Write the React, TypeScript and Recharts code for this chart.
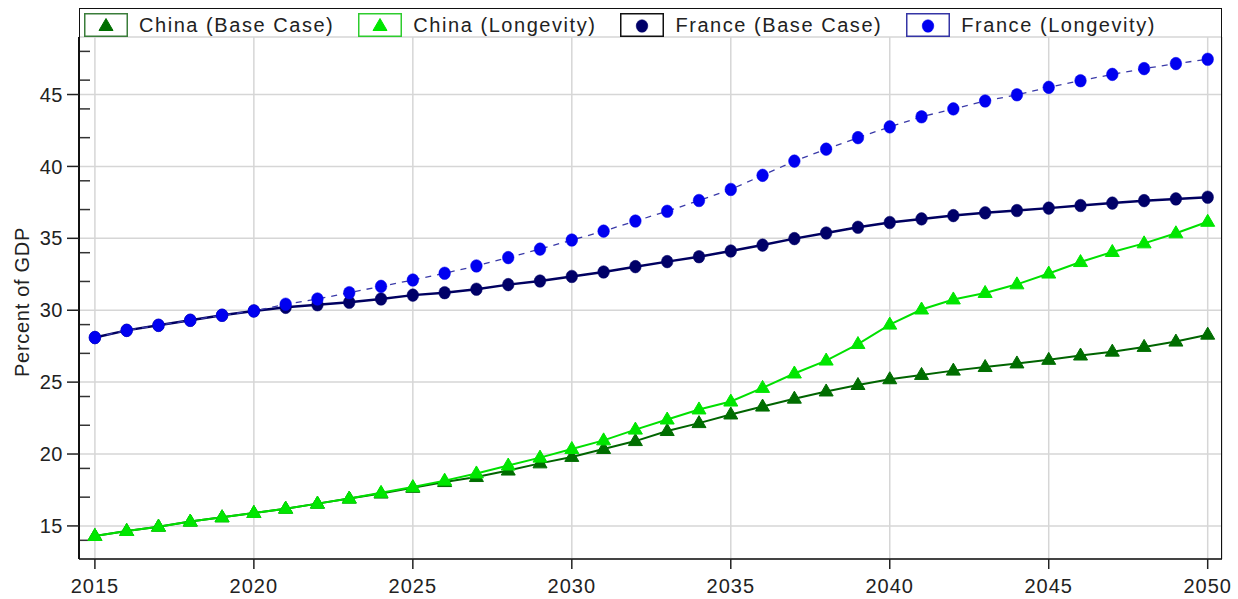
import React from "react";
import {
  LineChart,
  Line,
  XAxis,
  YAxis,
  CartesianGrid,
  Legend,
} from "recharts";

const years = [
  2015, 2016, 2017, 2018, 2019, 2020, 2021, 2022, 2023, 2024, 2025, 2026,
  2027, 2028, 2029, 2030, 2031, 2032, 2033, 2034, 2035, 2036, 2037, 2038,
  2039, 2040, 2041, 2042, 2043, 2044, 2045, 2046, 2047, 2048, 2049, 2050,
];

const chinaBase = [
  14.3, 14.65, 14.95, 15.3, 15.6, 15.9, 16.2, 16.55, 16.9, 17.25, 17.65, 18.05,
  18.4, 18.85, 19.35, 19.8, 20.35, 20.9, 21.6, 22.15, 22.75, 23.3, 23.85, 24.35,
  24.8, 25.2, 25.5, 25.8, 26.05, 26.3, 26.55, 26.85, 27.12, 27.45, 27.82, 28.3,
];

const chinaLongevity = [
  14.3, 14.65, 14.95, 15.3, 15.6, 15.9, 16.2, 16.55, 16.9, 17.3, 17.7, 18.15,
  18.65, 19.2, 19.75, 20.35, 20.95, 21.7, 22.4, 23.1, 23.65, 24.6, 25.6, 26.5,
  27.65, 29.0, 30.05, 30.75, 31.2, 31.8, 32.55, 33.35, 34.05, 34.65, 35.35, 36.15,
];

const franceBase = [
  28.1, 28.6, 28.95, 29.3, 29.65, 29.95, 30.2, 30.38, 30.55, 30.78, 31.05, 31.22,
  31.46, 31.78, 32.03, 32.35, 32.66, 33.03, 33.38, 33.72, 34.12, 34.53, 34.98, 35.37,
  35.77, 36.1, 36.35, 36.58, 36.77, 36.93, 37.1, 37.28, 37.45, 37.62, 37.74, 37.86,
];

const franceLongevity = [
  28.1, 28.6, 28.95, 29.3, 29.65, 29.95, 30.42, 30.78, 31.22, 31.66, 32.1, 32.57,
  33.08, 33.66, 34.25, 34.88, 35.5, 36.2, 36.88, 37.63, 38.4, 39.38, 40.37, 41.2,
  42.0, 42.75, 43.45, 44.0, 44.55, 44.98, 45.5, 45.96, 46.4, 46.8, 47.15, 47.45,
];

const xTicks = [2015, 2020, 2025, 2030, 2035, 2040, 2045, 2050];
const yTicks = [15, 20, 25, 30, 35, 40, 45];
const yMinorTicks = [
  13, 14, 16, 17, 18, 19, 21, 22, 23, 24, 26, 27, 28, 29, 31, 32, 33, 34, 36,
  37, 38, 39, 41, 42, 43, 44, 46, 47, 48,
];

const series = [
  { key: "chinaBase", name: "China (Base Case)", stroke: "#006400", marker: "#006e00", box: "#3a7d3a", shape: "tri", dash: undefined, width: 2 },
  { key: "chinaLongevity", name: "China (Longevity)", stroke: "#00e000", marker: "#00e600", box: "#2ecc2e", shape: "tri", dash: undefined, width: 2 },
  { key: "franceBase", name: "France (Base Case)", stroke: "#000060", marker: "#000068", box: "#111111", shape: "dot", dash: undefined, width: 2.5 },
  { key: "franceLongevity", name: "France (Longevity)", stroke: "#3a3aa8", marker: "#0000f0", box: "#3535a5", shape: "dot", dash: "6 6", width: 1.3 },
];

const data = years.map((year, i) => ({
  year,
  chinaBase: chinaBase[i],
  chinaLongevity: chinaLongevity[i],
  franceBase: franceBase[i],
  franceLongevity: franceLongevity[i],
}));

const FONT = '"Liberation Sans", Arial, sans-serif';

function Marker(props: any) {
  const { cx, cy, fill, shape } = props;
  if (cx == null || cy == null) return <g />;
  if (shape === "tri") {
    return (
      <polygon
        points={`${cx},${cy - 7.5} ${cx - 7},${cy + 4.5} ${cx + 7},${cy + 4.5}`}
        fill={fill}
        stroke={fill}
        strokeWidth={1}
      />
    );
  }
  return <ellipse cx={cx} cy={cy} rx={5.8} ry={6.3} fill={fill} stroke={fill} strokeWidth={0.5} />;
}

function LegendBox() {
  return (
    <div
      style={{
        display: "flex",
        alignItems: "center",
        paddingTop: 4,
        paddingLeft: 4,
        fontFamily: FONT,
        fontSize: 20,
        letterSpacing: 1.55,
        color: "#222",
      }}
    >
      {series.map((s) => (
        <div key={s.key} style={{ display: "flex", alignItems: "center", marginRight: 24 }}>
          <svg width={44} height={24} style={{ marginRight: 11, display: "block" }}>
            <rect x={0.75} y={0.75} width={42.5} height={22.5} fill="#fff" stroke={s.box} strokeWidth={1.5} />
            <Marker cx={22} cy={13} fill={s.marker} shape={s.shape} />
          </svg>
          <span>{s.name}</span>
        </div>
      ))}
    </div>
  );
}

export default function App() {
  return (
    <div style={{ position: "absolute", left: 0, top: 0, background: "#fff" }}>
      <LineChart
        width={1238}
        height={599}
        data={data}
        margin={{ top: 37, right: 16, bottom: 0, left: 0 }}
      >
        <CartesianGrid stroke="#d6d6d6" strokeWidth={1.5} />
        <XAxis
          dataKey="year"
          type="number"
          domain={[2014.5, 2050.45]}
          ticks={xTicks}
          allowDataOverflow
          height={40}
          tickSize={10}
          tickMargin={10}
          axisLine={{ stroke: "#444", strokeWidth: 2 }}
          tickLine={{ stroke: "#222", strokeWidth: 1.5 }}
          tick={{ fill: "#222", fontSize: 20, fontFamily: FONT, letterSpacing: 1 }}
        />
        <YAxis
          type="number"
          domain={[12.7, 49]}
          ticks={yTicks}
          allowDataOverflow
          width={79}
          tickSize={12}
          tickMargin={4}
          axisLine={{ stroke: "#111", strokeWidth: 2 }}
          tickLine={{ stroke: "#222", strokeWidth: 1.5 }}
          tick={{ fill: "#222", fontSize: 20, fontFamily: FONT, letterSpacing: 0.5 }}
          label={(p: any) => {
            const vb = p.viewBox || { x: 0, y: 37, width: 79, height: 522 };
            const cy = vb.y + vb.height / 2 + 4;
            return (
              <text
                x={22}
                y={cy}
                transform={`rotate(-90 22 ${cy})`}
                textAnchor="middle"
                dominantBaseline="central"
                fill="#222"
                fontSize={20}
                fontFamily={FONT}
                letterSpacing={0.7}
              >
                Percent of GDP
              </text>
            );
          }}
        />
        <YAxis
          yAxisId="minor"
          type="number"
          domain={[12.7, 49]}
          ticks={yMinorTicks}
          allowDataOverflow
          mirror
          width={79}
          tickSize={11}
          axisLine={false}
          tickLine={{ stroke: "#333", strokeWidth: 1.5 }}
          tick={() => <g />}
        />
        <Legend
          verticalAlign="middle"
          content={() => <LegendBox />}
          wrapperStyle={{
            position: "absolute",
            top: 8,
            left: 79,
            width: 1143,
            height: 551,
            boxSizing: "border-box",
            borderTop: "1.5px solid #111",
            borderLeft: "1.5px solid #111",
            borderRight: "1.5px solid #111",
            pointerEvents: "none",
          }}
        />
        {series.map((s) => (
          <Line
            key={s.key}
            dataKey={s.key}
            name={s.name}
            type="linear"
            stroke={s.stroke}
            strokeWidth={s.width}
            strokeDasharray={s.dash}
            dot={(p: any) => {
              const { key, ...rest } = p;
              return <Marker key={key ?? p.index} {...rest} fill={s.marker} shape={s.shape} />;
            }}
            activeDot={false}
            isAnimationActive={false}
          />
        ))}
      </LineChart>
    </div>
  );
}
